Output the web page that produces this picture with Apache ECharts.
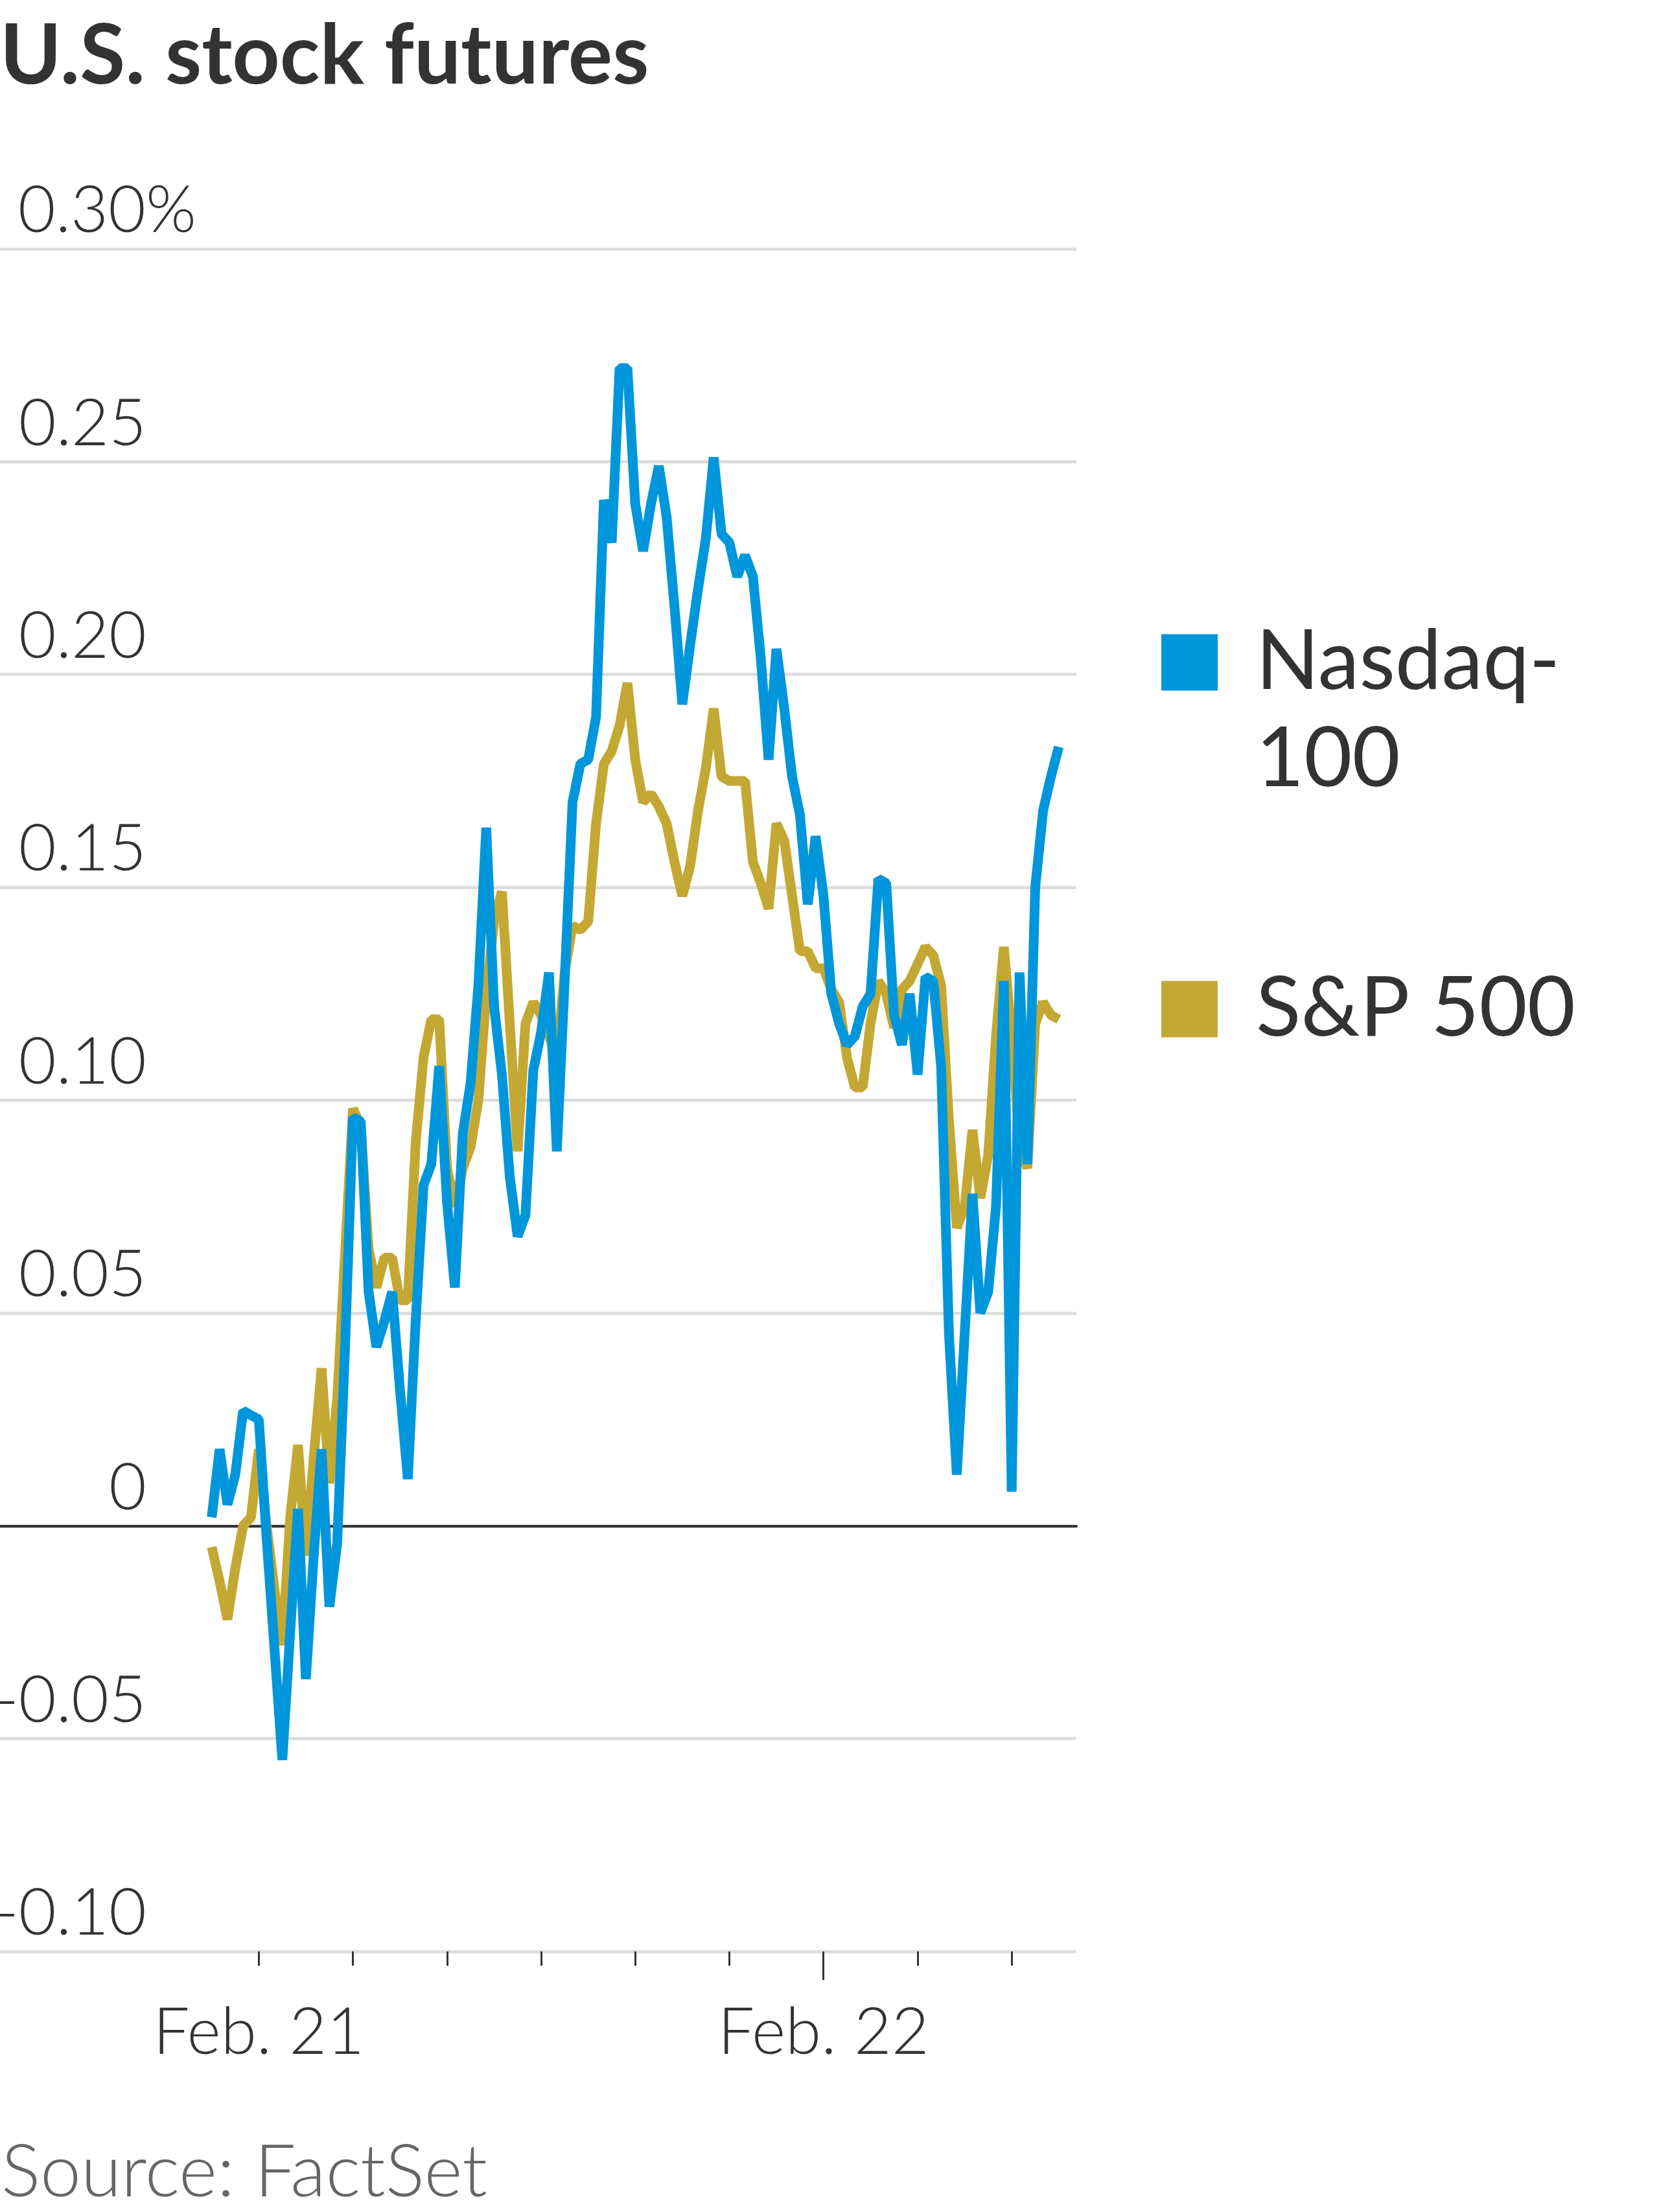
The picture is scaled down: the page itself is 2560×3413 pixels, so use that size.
<!DOCTYPE html>
<html><head><meta charset="utf-8">
<script src="https://cdn.jsdelivr.net/npm/echarts@6/dist/echarts.min.js"></script>
<style>html,body{margin:0;padding:0;background:#fff}#c{width:2560px;height:3413px}</style>
</head><body><div id="c"></div>
<script>
// ---- data ----
// x is measured in hours from Feb. 21, 00:00
const startHour = -2;          // first reading: Feb. 20, 22:00
const stepHours = 1 / 3;       // one reading every 20 minutes
const seriesNames = ['Nasdaq-100', 'S&P 500'];
const nasdaq100 = [
  0.002, 0.018, 0.005, 0.012, 0.027, 0.026, 0.025, -0.003, -0.029, -0.055,
  -0.025, 0.004, -0.036, -0.007, 0.018, -0.019, -0.004, 0.042, 0.096, 0.095,
  0.055, 0.042, 0.048, 0.055, 0.032, 0.011, 0.048, 0.080, 0.085, 0.108,
  0.076, 0.056, 0.092, 0.104, 0.127, 0.164, 0.122, 0.106, 0.082, 0.068,
  0.073, 0.107, 0.116, 0.130, 0.088, 0.128, 0.170, 0.179, 0.180, 0.190,
  0.241, 0.231, 0.272, 0.272, 0.240, 0.229, 0.240, 0.249, 0.237, 0.216,
  0.193, 0.207, 0.220, 0.232, 0.251, 0.233, 0.231, 0.223, 0.228, 0.223,
  0.204, 0.180, 0.206, 0.192, 0.176, 0.167, 0.146, 0.162, 0.148, 0.125,
  0.118, 0.113, 0.115, 0.122, 0.125, 0.152, 0.151, 0.120, 0.113, 0.125,
  0.106, 0.129, 0.128, 0.108, 0.045, 0.012, 0.045, 0.078, 0.050, 0.055,
  0.075, 0.128, 0.008, 0.130, 0.085, 0.150, 0.168, 0.176, 0.183
];
const sp500 = [
  -0.005, -0.013, -0.022, -0.010, 0.000, 0.002, 0.018, 0.000, -0.015, -0.028,
  0.002, 0.019, -0.007, 0.016, 0.037, 0.010, 0.030, 0.064, 0.098, 0.094,
  0.065, 0.056, 0.063, 0.063, 0.053, 0.053, 0.090, 0.110, 0.119, 0.119,
  0.084, 0.075, 0.084, 0.089, 0.100, 0.125, 0.142, 0.149, 0.118, 0.088,
  0.118, 0.123, 0.120, 0.115, 0.110, 0.130, 0.141, 0.140, 0.142, 0.165,
  0.179, 0.182, 0.188, 0.198, 0.180, 0.170, 0.172, 0.169, 0.165, 0.156,
  0.148, 0.155, 0.168, 0.178, 0.192, 0.176, 0.175, 0.175, 0.175, 0.156,
  0.151, 0.145, 0.165, 0.161, 0.148, 0.135, 0.135, 0.131, 0.131, 0.126,
  0.123, 0.110, 0.103, 0.103, 0.118, 0.128, 0.125, 0.117, 0.126, 0.128,
  0.132, 0.136, 0.134, 0.127, 0.095, 0.070, 0.075, 0.093, 0.077, 0.087,
  0.115, 0.136, 0.115, 0.090, 0.084, 0.118, 0.123, 0.120, 0.119
];
const yTickValues = [-0.10, -0.05, 0, 0.05, 0.10, 0.15, 0.20, 0.25, 0.30];
const yTickLabels = ['-0.10', '-0.05', '0', '0.05', '0.10', '0.15', '0.20', '0.25', '0.30'];
const xTickHours = [0, 4, 8, 12, 16, 20, 24, 28, 32];
const xDayHours = [0, 24];
const xDayLabels = ['Feb. 21', 'Feb. 22'];
const majorTickHours = [24];
const xMinHour = -11;
const xMaxHour = 34.75;

// ---- chart ----
const toPairs = arr => arr.map((v, i) => [startHour + i * stepHours, v]);
const LABEL_FONT = 'Lato';
const chart = echarts.init(document.getElementById('c'), null, {renderer: 'canvas', width: 2560, height: 3413});
const labelFont = {fontFamily: LABEL_FONT, fontWeight: 300, fontSize: 100, color: '#333'};

chart.setOption({
  animation: false,
  backgroundColor: '#ffffff',
  title: [
    {text: 'U.S. stock futures', left: 0, top: 24, padding: 0,
     textStyle: {fontFamily: 'Lato', fontWeight: 'bold', fontSize: 128, color: '#333333'}},
    {text: 'Source: FactSet', left: 2, top: 3296, padding: 0,
     textStyle: {fontFamily: 'Lato', fontWeight: 300, fontSize: 113, color: '#666666'}}
  ],
  legend: [
    {data: [seriesNames[0]], left: 1792, top: 797, padding: 0, orient: 'vertical',
     icon: 'rect', itemWidth: 87, itemHeight: 87, selectedMode: false,
     formatter: n => ' \n' + n.replace('-', '-\n'),
     textStyle: {fontFamily: 'Lato', fontSize: 128, color: '#333', lineHeight: 150, padding: [0, 0, 0, 54]}},
    {data: [seriesNames[1]], left: 1792, top: 1482, padding: 0, orient: 'vertical',
     icon: 'rect', itemWidth: 87, itemHeight: 87, selectedMode: false,
     textStyle: {fontFamily: 'Lato', fontSize: 128, color: '#333', lineHeight: 150, padding: [0, 0, 0, 54]}}
  ],
  grid: {left: 0, right: 899, top: 384, bottom: 402, containLabel: false, outerBoundsMode: 'none'},
  xAxis: [
    {type: 'value', min: xMinHour, max: xMaxHour, position: 'bottom',
     axisLine: {show: true, onZero: true, lineStyle: {color: '#333333', width: 4}},
     axisTick: {show: false}, axisLabel: {show: false}, splitLine: {show: false}},
    {type: 'value', min: xMinHour, max: xMaxHour, position: 'bottom',
     axisLine: {show: false, onZero: false},
     axisTick: {show: true, customValues: xTickHours, length: 22, lineStyle: {color: '#333', width: 3}},
     axisLabel: {show: true, customValues: xDayHours, margin: 76, ...labelFont,
       formatter: v => { const k = xDayHours.indexOf(v); return k >= 0 ? xDayLabels[k] : ''; }},
     splitLine: {show: false}},
    {type: 'value', min: xMinHour, max: xMaxHour, position: 'bottom',
     axisLine: {show: false, onZero: false},
     axisTick: {show: true, customValues: majorTickHours, length: 44, lineStyle: {color: '#333', width: 3}},
     axisLabel: {show: false}, splitLine: {show: false}}
  ],
  yAxis: {
    type: 'value', min: -0.10, max: 0.30, interval: 0.05,
    axisLine: {show: false}, axisTick: {show: false},
    splitLine: {show: true, lineStyle: {color: '#dedede', width: 5}},
    axisLabel: {
      inside: true, align: 'right', verticalAlign: 'bottom', margin: 226,
      padding: [0, 0, 8, 0],
      showMinLabel: true, showMaxLabel: true, ...labelFont,
      formatter: v => {
        const r = Math.round(v * 100) / 100;
        const k = yTickValues.findIndex(t => Math.abs(t - r) < 1e-9);
        if (k < 0) return '';
        if (k === yTickValues.length - 1) return '{n|' + yTickLabels[k] + '}{p|%}';
        return yTickLabels[k];
      },
      rich: {
        n: {fontFamily: LABEL_FONT, fontWeight: 300, fontSize: 100, color: '#333', align: 'left'},
        p: {fontFamily: LABEL_FONT, fontWeight: 300, fontSize: 100, color: '#333', align: 'left', width: 1}
      }
    }
  },
  series: [
    {name: seriesNames[1], type: 'line', xAxisIndex: 0, data: toPairs(sp500),
     showSymbol: false, symbol: 'none', color: '#c4a834',
     lineStyle: {width: 15, color: '#c4a834'}, z: 2},
    {name: seriesNames[0], type: 'line', xAxisIndex: 0, data: toPairs(nasdaq100),
     showSymbol: false, symbol: 'none', color: '#0096db',
     lineStyle: {width: 15, color: '#0096db'}, z: 3}
  ]
});
</script></body></html>
